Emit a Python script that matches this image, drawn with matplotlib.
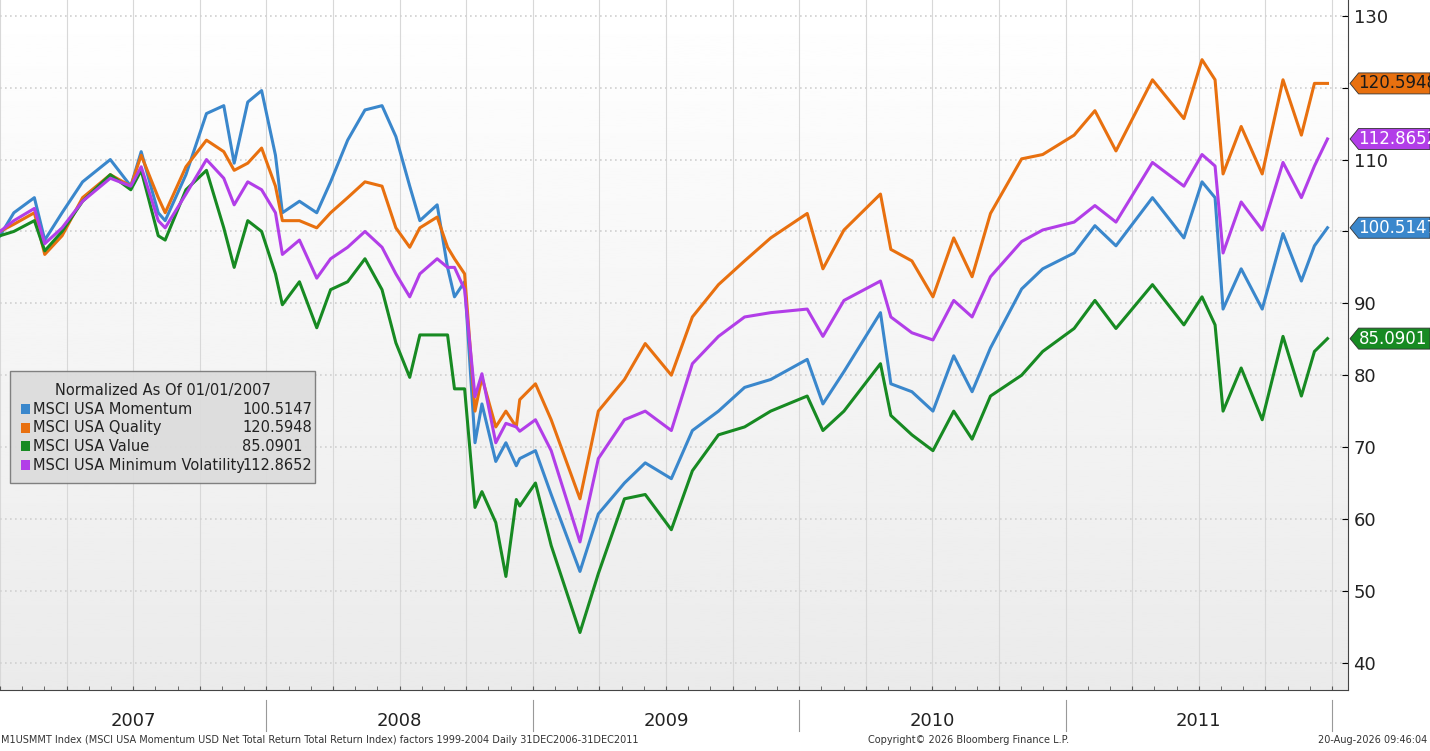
"""
Recreación del gráfico Bloomberg: factores MSCI USA normalizados (2007-2011).
"""

import numpy as np
import matplotlib
matplotlib.use("Agg")
import matplotlib.pyplot as plt
from matplotlib.patches import Polygon, Rectangle
from matplotlib.ticker import MultipleLocator

# fechas en años decimales, dos tramos
fechas_1 = [2007.000, 2007.052, 2007.129, 2007.168, 2007.233, 2007.310, 2007.414, 2007.491,
            2007.530, 2007.594, 2007.620, 2007.698, 2007.775, 2007.840, 2007.879, 2007.930,
            2007.982, 2008.034, 2008.060, 2008.124, 2008.189, 2008.241, 2008.305, 2008.370,
            2008.434, 2008.486, 2008.538, 2008.576, 2008.641, 2008.680, 2008.706, 2008.744,
            2008.783, 2008.809, 2008.861, 2008.899, 2008.938]
fechas_2 = [2008.951, 2009.010, 2009.069, 2009.177, 2009.246, 2009.344, 2009.422, 2009.520,
            2009.599, 2009.697, 2009.795, 2009.893, 2010.030, 2010.089, 2010.168, 2010.305,
            2010.344, 2010.423, 2010.502, 2010.580, 2010.649, 2010.718, 2010.835, 2010.914,
            2011.032, 2011.110, 2011.189, 2011.326, 2011.444, 2011.512, 2011.561, 2011.591,
            2011.659, 2011.738, 2011.816, 2011.885, 2011.934, 2011.983]
fechas = fechas_1 + fechas_2

momentum = [99.4, 102.6, 104.7, 98.8, 102.6, 106.9, 110.0, 106.3, 111.1, 102.6, 101.5, 107.9,
            116.4, 117.5, 109.5, 118.0, 119.6, 110.6, 102.6, 104.2, 102.6, 106.9, 112.7, 116.9,
            117.5, 113.2, 106.3, 101.5, 103.7, 95.0, 90.9, 93.0, 70.6, 76.0, 68.0, 70.6, 67.4,
            68.4, 69.5, 63.4, 52.7, 60.7, 65.0, 67.8, 65.6, 72.3, 75.0, 78.3, 79.4, 82.2, 76.0,
            80.5, 88.7, 78.8, 77.7, 75.0, 82.7, 77.7, 83.8, 92.0, 94.8, 97.0, 100.8, 98.0, 104.7,
            99.1, 106.9, 104.7, 89.2, 94.8, 89.2, 99.7, 93.1, 98.0, 100.5147]
quality = [100.0, 101.0, 102.6, 96.8, 99.4, 104.7, 107.9, 106.3, 110.6, 104.7, 102.6, 109.0,
           112.7, 111.1, 108.5, 109.5, 111.6, 106.3, 101.5, 101.5, 100.5, 102.6, 104.7, 106.9,
           106.3, 100.5, 97.8, 100.5, 102.0, 97.8, 96.2, 94.1, 75.0, 79.7, 72.8, 75.0, 72.8,
           76.6, 78.8, 73.8, 62.8, 75.0, 79.4, 84.4, 80.0, 88.1, 92.6, 95.9, 99.1, 102.5, 94.8,
           100.2, 105.2, 97.5, 95.9, 90.9, 99.1, 93.7, 102.5, 110.1, 110.7, 113.4, 116.8, 111.2,
           121.1, 115.7, 123.9, 121.1, 108.0, 114.6, 108.0, 121.1, 113.4, 120.6, 120.5948]
value = [99.4, 100.0, 101.5, 97.3, 100.0, 104.2, 107.9, 105.8, 108.5, 99.4, 98.8, 105.8,
         108.5, 100.5, 95.0, 101.5, 100.0, 94.1, 89.8, 93.0, 86.6, 91.9, 93.0, 96.2, 91.9,
         84.5, 79.7, 85.6, 85.6, 85.6, 78.1, 78.1, 61.6, 63.8, 59.5, 52.0, 62.7,
         61.8, 65.0, 56.3, 44.2, 52.4, 62.8, 63.4, 58.5, 66.7, 71.7, 72.8, 75.0, 77.1, 72.3,
         75.0, 81.6, 74.4, 71.7, 69.5, 75.0, 71.1, 77.1, 80.0, 83.3, 86.5, 90.4, 86.5, 92.6,
         87.0, 90.9, 87.0, 75.0, 81.0, 73.8, 85.4, 77.1, 83.3, 85.0901]
min_vol = [100.0, 101.5, 103.2, 98.3, 100.5, 104.2, 107.4, 106.3, 109.0, 101.5, 100.5, 105.2,
           110.0, 107.4, 103.7, 106.9, 105.8, 102.6, 96.8, 98.8, 93.5, 96.2, 97.8, 100.0, 97.8,
           94.1, 90.9, 94.1, 96.2, 95.0, 95.0, 91.9, 77.0, 80.2, 70.6, 73.3, 72.8,
           72.2, 73.8, 69.5, 56.8, 68.4, 73.8, 75.0, 72.3, 81.6, 85.4, 88.1, 88.7, 89.2, 85.4,
           90.4, 93.1, 88.1, 85.9, 84.9, 90.4, 88.1, 93.7, 98.6, 100.2, 101.3, 103.6, 101.3,
           109.6, 106.3, 110.7, 109.1, 97.0, 104.1, 100.2, 109.6, 104.7, 109.1, 112.8652]

nombres = ["MSCI USA Momentum", "MSCI USA Quality", "MSCI USA Value", "MSCI USA Minimum Volatility"]
series = [momentum, quality, value, min_vol]
colores = ["#3a87cc", "#e8700f", "#178a22", "#b23ee8"]
colores_texto = ["white", "#1a1a1a", "white", "white"]
anios = [2007, 2008, 2009, 2010, 2011]

W, H = 1430, 751
fig = plt.figure(figsize=(14.3, 7.51), dpi=100)
fig.patch.set_facecolor("white")
ax = fig.add_axes([0, 1 - 690 / H, 1348 / W, 690 / H])

# fondo degradado blanco -> gris claro
grad = np.linspace(1.0, 0.92, 256).reshape(-1, 1)
ax.imshow(grad, extent=[0, 1, 0, 1], transform=ax.transAxes, cmap="gray",
          vmin=0, vmax=1, aspect="auto", zorder=0)

for s, c in zip(series, colores):
    ax.plot(fechas, s, color=c, lw=2.2, zorder=3)

ax.set_xlim(2007.0, 2012.06)
ax.set_ylim(36.2, 132.2)
ax.xaxis.set_major_locator(MultipleLocator(0.25))
ax.xaxis.set_minor_locator(MultipleLocator(1 / 12))
ax.grid(axis="x", color="#d8d8d8", lw=0.8)
ax.grid(axis="y", color="#d0d0d0", lw=1.2, ls=(0, (1, 2)))
ax.yaxis.tick_right()
ax.set_yticks([40, 50, 60, 70, 80, 90, 100, 110, 120, 130])
ax.set_yticklabels(["40", "50", "60", "70", "80", "90", "", "110", "", "130"])
ax.tick_params(axis="x", which="both", labelbottom=False, direction="in", length=3, color="#555")
ax.tick_params(axis="y", direction="in", length=4, labelsize=13, pad=4, labelcolor="#222")
for lado in ["top", "left"]:
    ax.spines[lado].set_visible(False)
ax.spines["right"].set_color("#444")
ax.spines["bottom"].set_color("#444")

# etiquetas de años y separadores
for a in anios:
    ax.text(a + 0.5, -0.045, str(a), transform=ax.get_xaxis_transform(),
            ha="center", va="center", fontsize=13, color="#222")
    ax.plot([a + 1, a + 1], [-0.015, -0.06], transform=ax.get_xaxis_transform(),
            color="#999", lw=0.8, clip_on=False)

# etiquetas de último valor en el eje derecho
fig.canvas.draw()
for s, c, ct in zip(series, colores, colores_texto):
    y = s[-1]
    yf = ax.transData.transform((0, y))[1] / H
    x0 = 1350 / W
    h = 21 / H
    poly = Polygon([[x0, yf], [x0 + 0.006, yf + h / 2], [1.0, yf + h / 2],
                    [1.0, yf - h / 2], [x0 + 0.006, yf - h / 2]],
                   closed=True, transform=fig.transFigure, facecolor=c,
                   edgecolor="#333", lw=0.6, zorder=5)
    fig.patches.append(poly)
    fig.text(x0 + 0.006, yf, f"{y:.4f}", color=ct, fontsize=12, va="center",
             ha="left", zorder=8)

# leyenda dibujada a mano (recuadro gris)
def fy(py):
    return 1 - py / H

caja = Rectangle((10 / W, fy(483)), 305 / W, 112 / H, transform=fig.transFigure,
                 facecolor="#dcdcdc", edgecolor="#777", lw=1.0, alpha=0.92, zorder=6)
fig.patches.append(caja)
fig.text(163 / W, fy(390), "Normalized As Of 01/01/2007", fontsize=10.5,
         ha="center", va="center", color="#222", zorder=8)
for i, (n, s, c) in enumerate(zip(nombres, series, colores)):
    py = 409 + i * 18.7
    fig.patches.append(Rectangle((21 / W, fy(py + 5)), 9 / W, 10 / H,
                                 transform=fig.transFigure, facecolor=c, zorder=7))
    fig.text(33 / W, fy(py), n, fontsize=10.5, va="center", color="#222", zorder=8)
    fig.text(242 / W, fy(py), f"{s[-1]:.4f}", fontsize=10.5, va="center",
             color="#222", zorder=8)

fig.text(0.001, 11 / H, "M1USMMT Index (MSCI USA Momentum USD Net Total Return Total Return Index) factors 1999-2004 Daily 31DEC2006-31DEC2011",
         fontsize=7, color="#333", va="center")
fig.text(868 / W, 11 / H, "Copyright© 2026 Bloomberg Finance L.P.", fontsize=7,
         color="#333", va="center")
fig.text(0.998, 11 / H, "20-Aug-2026 09:46:04", fontsize=7, color="#333",
         va="center", ha="right")

fig.savefig("out.png", dpi=100)
